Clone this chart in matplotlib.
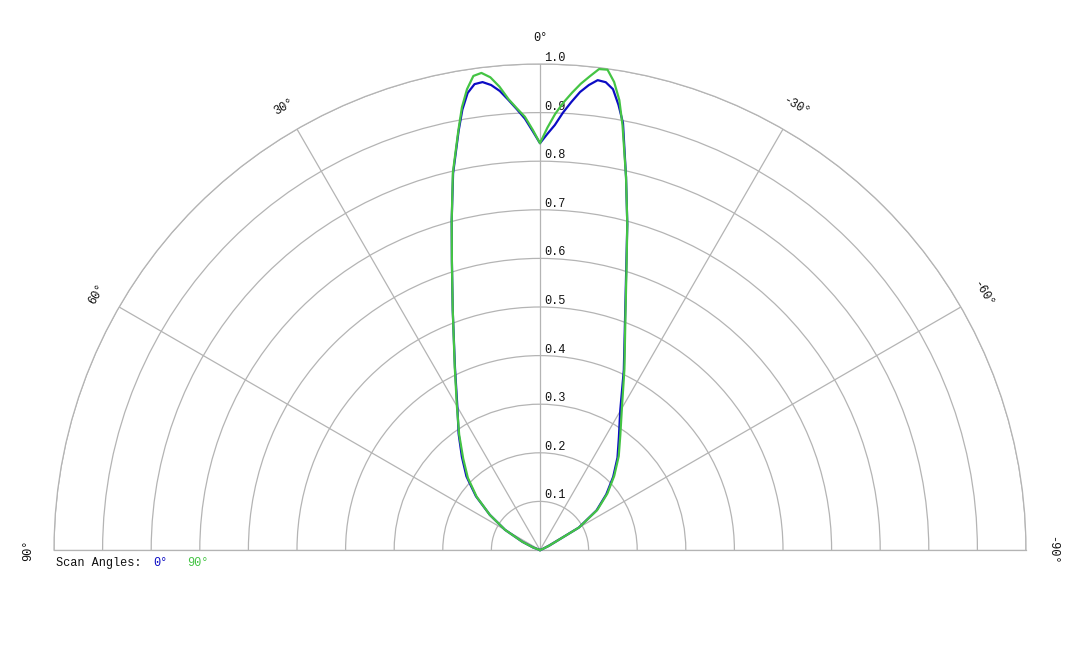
import numpy as np
import matplotlib
matplotlib.use('Agg')
import matplotlib.pyplot as plt

# scan angle (deg, 0 = up, positive to the left) and relative intensity
angles = [-90, -80, -70, -65, -60, -55, -50, -45, -40, -35, -30, -25, -20, -17, -15, -13, -11, -10, -9,
          -8, -7, -6, -5, -4, -3, -2, -1, 0, 1, 2, 3, 4, 5, 6, 7, 8, 9, 10, 11, 13, 15, 17, 20, 25,
          30, 35, 40, 45, 50, 55, 60, 65, 70, 80, 90]
scan_0 = [0.0, 0.0, 0.005, 0.02, 0.092, 0.142, 0.178, 0.213, 0.248, 0.283, 0.330, 0.408, 0.512, 0.607,
          0.694, 0.787, 0.895, 0.93, 0.96, 0.972, 0.974, 0.962, 0.946, 0.924, 0.901, 0.875, 0.856,
          0.837,
          0.862, 0.888, 0.908, 0.928, 0.948, 0.962, 0.970, 0.968, 0.952, 0.92, 0.878, 0.795, 0.702,
          0.62, 0.525, 0.414, 0.34, 0.292, 0.25, 0.214, 0.172, 0.126, 0.083, 0.04, 0.015, 0.0, 0.0]
scan_90 = [0.0, 0.0, 0.005, 0.02, 0.093, 0.144, 0.181, 0.216, 0.252, 0.288, 0.337, 0.411, 0.514, 0.609,
           0.694, 0.787, 0.89, 0.94, 0.975, 0.998, 0.997, 0.98, 0.963, 0.943, 0.922, 0.898, 0.869,
           0.837,
           0.865, 0.892, 0.910, 0.930, 0.957, 0.978, 0.989, 0.985, 0.96, 0.925, 0.88, 0.797, 0.702,
           0.62, 0.525, 0.415, 0.342, 0.29, 0.246, 0.21, 0.17, 0.126, 0.083, 0.04, 0.015, 0.0, 0.0]

rings = [0.1, 0.2, 0.3, 0.4, 0.5, 0.6, 0.7, 0.8, 0.9, 1.0]
ring_labels = ['0.1', '0.2', '0.3', '0.4', '0.5', '0.6', '0.7', '0.8', '0.9', '1.0']
spokes = [-90, -60, -30, 0, 30, 60, 90]
spoke_labels = ['-90°', '-60°', '-30°', '0°', '30°', '60°', '90°']

blue = '#0c0cc4'
green = '#44c444'
grid_c = '#b4b4b4'
font = 'Liberation Mono'
fs = 8.6

W, H = 1080, 648
fig = plt.figure(figsize=(W / 100, H / 100), dpi=100)
# square box of 972 px; the half disc sits in its middle band
ax = fig.add_axes([54 / W, -145 / H, 972 / W, 972 / H], projection='polar')
ax.set_theta_zero_location('N')
ax.set_theta_direction(1)
ax.set_thetamin(-90)
ax.set_thetamax(90)
ax.set_ylim(0, 1)
ax.set_yticks(rings)
ax.set_yticklabels([])
ax.set_xticks(np.deg2rad(spokes))
ax.set_xticklabels([])
ax.tick_params(length=0)
ax.grid(True, color=grid_c, lw=0.9)
for s in ax.spines.values():
    s.set_color(grid_c)
    s.set_linewidth(0.9)

th = np.deg2rad(angles)
ax.plot(th, scan_0, color=blue, lw=1.6, zorder=3, clip_on=False)
ax.plot(th, scan_90, color=green, lw=1.6, zorder=4, clip_on=False)

# ring values along the 0 deg spoke
for r, lbl in zip(rings, ring_labels):
    ax.annotate(lbl, xy=(0, r), xytext=(4, 3), textcoords='offset pixels',
                ha='left', va='baseline', fontsize=fs, family=font, color='#111111')

# angle labels around the rim
for a, lbl in zip(spokes, spoke_labels):
    ax.text(np.deg2rad(a), 1.053, lbl, rotation=a, rotation_mode='anchor',
            ha='center', va='center', fontsize=fs, family=font, color='#111111')

fig.text(56 / W, 1 - 563 / H, 'Scan Angles:', ha='left', va='center',
         fontsize=fs, family=font, color='#111111')
fig.text(153 / W, 1 - 563 / H, '0°', ha='left', va='center',
         fontsize=fs, family=font, color=blue)
fig.text(187 / W, 1 - 563 / H, '90°', ha='left', va='center',
         fontsize=fs, family=font, color=green)

fig.savefig('out.png', dpi=100)
